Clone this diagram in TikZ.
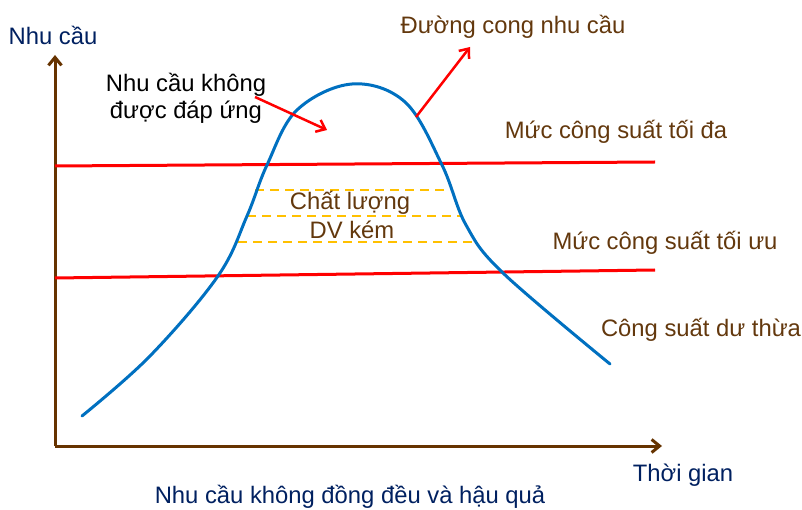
\documentclass[tikz,border=0pt]{standalone}
\usepackage{fontspec}
\setmainfont{Liberation Sans}
\usetikzlibrary{arrows.meta, positioning}
\definecolor{axisbrown}{RGB}{102,51,0}
\definecolor{labelbrown}{RGB}{99,56,13}
\definecolor{navy}{RGB}{0,32,96}
\definecolor{curveblue}{RGB}{0,112,192}
\definecolor{levelred}{RGB}{255,0,0}
\definecolor{gold}{RGB}{255,192,0}

\begin{document}
\begin{tikzpicture}[x=1pt, y=-1pt,
  txt/.style={font=\fontsize{23.8}{27}\selectfont, inner sep=0pt, align=center},
  axis/.style={axisbrown, line width=3pt, -{Straight Barb[length=8pt, width=13pt]}},
  level/.style={levelred, line width=3pt},
  pointer/.style={levelred, line width=2.5pt, -{Straight Barb[length=8pt, width=13pt]}},
  weak/.style={gold, line width=2pt, dash pattern=on 9pt off 6pt}]
  \useasboundingbox (0,0) rectangle (802,510);

  % axes
  \coordinate (origin) at (55,446);
  \coordinate (ytop) at (55,55);
  \coordinate (xend) at (662,446);
  \draw[axis] (origin) -- (ytop);
  \draw[axis] (origin) -- (xend);
  \node[txt, navy] (ylab) at (53,35) {Nhu cầu};
  \node[txt, navy] (xlab) at (683,475) {Thời gian};
  \node[txt, navy] (title) at (350,497) {Nhu cầu không đồng đều và hậu quả};

  % capacity levels
  \coordinate (maxL) at (55,166);
  \coordinate (maxR) at (655,162);
  \coordinate (optL) at (55,278);
  \coordinate (optR) at (655,270);
  \draw[level] (maxL) -- (maxR);
  \draw[level] (optL) -- (optR);
  \node[txt, labelbrown] (maxlab) at (616,132) {Mức công suất tối đa};
  \node[txt, labelbrown] (optlab) at (665,243) {Mức công suất tối ưu};
  \node[txt, labelbrown] (overlab) at (701,330) {Công suất dư thừa};

  % poor service band
  \draw[weak] (255,190) -- (445,190);
  \draw[weak] (247,216) -- (463,216);
  \draw[weak] (238,242) -- (472,242);
  \node[txt, labelbrown] (quality) at (350,203) {Chất lượng};
  \node[txt, labelbrown] (poor) at (352,230) {DV kém};

  % demand curve
  \draw[curveblue, line width=3pt, line cap=round] plot[smooth, tension=0.6] coordinates {
    (82,416) (150,356) (218,276) (247,216) (267,165) (297,110) (352,84)
    (405,102) (442,165) (466,225) (503,273) (610,364)};

  % callouts
  \node[txt] (unmet) at (186,98) {Nhu cầu không\\được đáp ứng};
  \coordinate (unmetfrom) at (255,97);
  \coordinate (unmetto) at (327,130);
  \draw[pointer] (unmetfrom) -- (unmetto);
  \node[txt, labelbrown] (curvelab) at (513,27) {Đường cong nhu cầu};
  \coordinate (onpeak) at (416,117);
  \coordinate (curveto) at (470,47);
  \draw[pointer] (onpeak) -- (curveto);
\end{tikzpicture}
\end{document}
